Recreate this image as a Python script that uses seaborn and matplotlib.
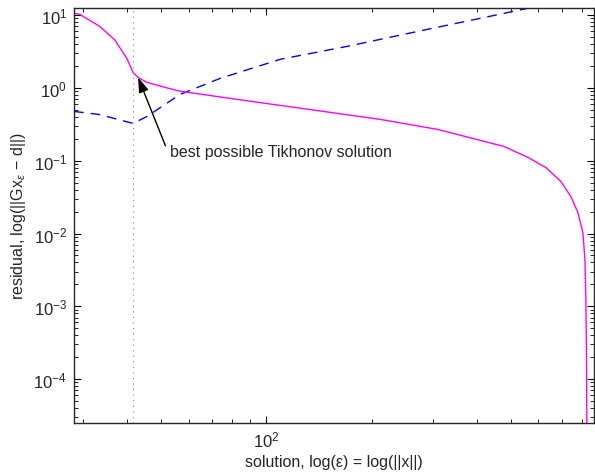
import numpy as np
import pandas as pd
import matplotlib
matplotlib.use("Agg")
import matplotlib.pyplot as plt
from matplotlib.ticker import LogLocator, NullFormatter, FixedLocator
import seaborn as sns

# residual curve (solid magenta)
res_x = [28.2, 29.3, 33.4, 36.9, 40.0, 41.6, 43.0, 45.6, 52.0, 56.7, 89.9, 125.2, 212, 309, 478, 560, 630, 696, 743, 778, 804, 815, 820, 823, 826, 828]
res_y = [10.6, 10.2, 7.0, 4.55, 2.5, 1.63, 1.39, 1.19, 1.0, 0.9, 0.656, 0.526, 0.369, 0.269, 0.157, 0.111, 0.0806, 0.0517, 0.0322, 0.0194, 0.0103, 0.00437, 0.00123, 2.5e-4, 1e-5, 1e-7]

# solution-error curve (dashed blue)
err_x = [28.2, 33.4, 41.6, 45.6, 56.7, 73.8, 109.7, 170.6, 263.6, 410, 560, 700]
err_y = [0.475, 0.43, 0.325, 0.405, 0.814, 1.35, 2.47, 3.72, 5.80, 9.04, 12.4, 15.5]

best_x = 41.6
tip = (43.0, 1.39)
label_text = "best possible Tikhonov solution"

sns.set_style("ticks")
plt.rcParams["font.family"] = ["Liberation Sans", "DejaVu Sans"]
plt.rcParams["mathtext.fontset"] = "custom"
plt.rcParams["mathtext.rm"] = "Liberation Sans"
plt.rcParams["mathtext.it"] = "Liberation Sans:italic"

fig = plt.figure(figsize=(5.95, 4.77), dpi=100)
ax = fig.add_axes([74/595, 1 - 424/477, (594 - 74)/595, (424 - 9)/477])

df_res = pd.DataFrame({"x": res_x, "y": res_y})
df_err = pd.DataFrame({"x": err_x, "y": err_y})

sns.lineplot(data=df_err, x="x", y="y", ax=ax, color="#0000FF", lw=1.0,
             estimator=None, sort=False)
ax.lines[-1].set_dashes((7, 5))
sns.lineplot(data=df_res, x="x", y="y", ax=ax, color="#FF00FF", lw=1.0,
             estimator=None, sort=False)

ax.axvline(best_x, color="#888888", lw=0.8, ls=(0, (1, 4)))

ax.set_xscale("log")
ax.set_yscale("log")
ax.set_xlim(28.2, 865)
ax.set_ylim(2.5e-5, 12.5)

ax.annotate("", xy=tip, xytext=(51.5, 0.16),
            arrowprops=dict(arrowstyle="-|>,head_length=0.9,head_width=0.3",
                            color="black", lw=1.0, shrinkA=0, shrinkB=0))
ax.text(53.1, 0.134, label_text, ha="left", va="center", fontsize=11.5)

ax.set_xlabel("solution, log(ε) = log(||x||)", fontsize=11.5, labelpad=3)
ax.set_ylabel("residual, log(||Gx$_{\\varepsilon}$ − d||)", fontsize=11.5, labelpad=4)

ax.xaxis.set_major_locator(FixedLocator([10, 100, 1000]))
ax.xaxis.set_minor_locator(FixedLocator([k * 10 for k in range(2, 10)] + [k * 100 for k in range(2, 10)]))
ax.yaxis.set_major_locator(LogLocator(base=10, numticks=20))
ax.yaxis.set_minor_locator(LogLocator(base=10, subs=np.arange(2, 10), numticks=20))
ax.yaxis.set_minor_formatter(NullFormatter())
ax.xaxis.set_minor_formatter(NullFormatter())

ax.tick_params(which="both", direction="in", top=True, right=True, bottom=True, left=True,
               labelsize=12, color="black")
ax.tick_params(which="major", length=5, width=0.8, pad=5)
ax.tick_params(which="minor", length=3, width=0.6)
for s in ax.spines.values():
    s.set_visible(True)
    s.set_linewidth(1.0)

fig.savefig("out.png", dpi=100)
